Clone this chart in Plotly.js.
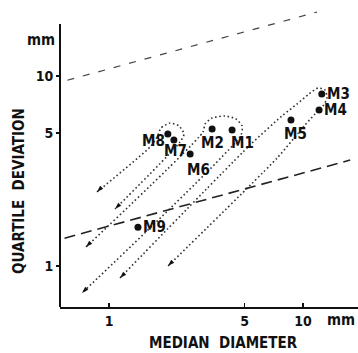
<!DOCTYPE html>
<html>
<head>
<meta charset="utf-8">
<script src="https://cdn.plot.ly/plotly-3.0.1.min.js"></script>
<style>html,body{margin:0;padding:0;background:#fff;}#chart{width:358px;height:353px;}</style>
</head>
<body>
<div id="chart"></div>
<script>
// ---- data ----
const pointNames = ['M1','M2','M3','M4','M5','M6','M7','M8','M9'];
const medianDiameter = [4.31, 3.40, 12.5, 12.1, 8.67, 2.62, 2.16, 2.01, 1.41];
const quartileDeviation = [5.20, 5.26, 8.04, 6.62, 5.87, 3.89, 4.61, 4.95, 1.60];

// dotted lassos (grouping paths) ending in arrows at lower left
const group1X = [0.867, 1.627, 1.768, 1.854, 2.063, 2.295, 2.436, 2.323, 1.074];
const group1Y = [2.452, 4.23, 4.77, 5.33, 5.66, 5.46, 4.95, 4.49, 1.995];
const group2X = [0.761, 3.051, 3.125, 3.396, 3.963, 4.514, 4.849, 4.79, 0.726];
const group2Y = [1.259, 5.075, 5.59, 6.01, 6.16, 5.94, 5.46, 4.89, 0.721];
const group3X = [1.139, 5.33, 7.79, 9.31, 10.74, 11.95, 12.99, 13.30, 12.68, 11.53, 10.24, 7.35, 2.014];
const group3Y = [0.865, 4.33, 6.16, 7.12, 8.04, 8.65, 8.44, 7.66, 6.95, 6.31, 5.52, 3.70, 1.0];

// dashed reference lines
const upperLineX = [0.61, 11.8];
const upperLineY = [9.5, 21.7];
const lowerLineX = [0.59, 17.5];
const lowerLineY = [1.40, 3.61];

// axis ticks
const xTickVals = [1, 5, 10];
const xTickText = ['1', '5', '10'];
const yTickVals = [1, 5, 10];
const yTickText = ['1', '5', '10'];

// ---- styling ----
const FONT = 'DejaVu Sans Condensed, DejaVu Sans, sans-serif';
const INK = '#111';
const groups = [[group1X, group1Y], [group2X, group2Y], [group3X, group3Y]];

const traces = [];
groups.forEach(([gx, gy]) => {
  traces.push({x: gx, y: gy, mode: 'lines', type: 'scatter', hoverinfo: 'skip',
    line: {color: '#333', width: 1.6, dash: '1.6px,2.6px', shape: 'spline', smoothing: 0.6}});
});
// arrowheads at both ends of each lasso
const arrowX = [], arrowY = [];
groups.forEach(([gx, gy]) => {
  arrowX.push(gx[0], gx[gx.length - 1]);
  arrowY.push(gy[0], gy[gy.length - 1]);
});
traces.push({x: arrowX, y: arrowY, mode: 'markers', type: 'scatter', hoverinfo: 'skip',
  marker: {symbol: 'arrow', angle: 225, size: 7, color: INK}});

traces.push({x: upperLineX, y: upperLineY, mode: 'lines', type: 'scatter', hoverinfo: 'skip',
  line: {color: '#444', width: 1.2, dash: '7px,9px'}});
traces.push({x: lowerLineX, y: lowerLineY, mode: 'lines', type: 'scatter', hoverinfo: 'skip',
  line: {color: '#222', width: 1.6, dash: '11px,6px'}});

traces.push({x: medianDiameter, y: quartileDeviation, mode: 'markers', type: 'scatter',
  marker: {size: 7, color: INK}});

// label offsets (pixels) relative to each point
const labelOffsets = {
  M1: [10, 13, 'center'], M2: [0, 14, 'center'], M3: [3, 0, 'left'], M4: [3, 0, 'left'],
  M5: [5, 14, 'center'], M6: [8, 16, 'center'], M7: [2, 11, 'center'], M8: [-14, 7, 'center'],
  M9: [3, 0, 'left']
};
const lblFont = {family: FONT, size: 15, color: INK, weight: 'bold'};
const annotations = pointNames.map((n, i) => ({
  x: Math.log10(medianDiameter[i]), y: Math.log10(quartileDeviation[i]), xref: 'x', yref: 'y',
  text: n, showarrow: false, xanchor: labelOffsets[n][2], yanchor: 'middle',
  xshift: labelOffsets[n][0], yshift: -labelOffsets[n][1], font: lblFont
}));
annotations.push(
  {xref: 'paper', yref: 'paper', x: -0.064, y: 0.893, xanchor: 'center', yanchor: 'middle',
   text: 'mm', showarrow: false, font: lblFont},
  {xref: 'paper', yref: 'paper', x: 0.943, y: -0.043, xanchor: 'center', yanchor: 'middle',
   text: 'mm', showarrow: false, font: lblFont},
  {xref: 'paper', yref: 'paper', x: 0.55, y: -0.12, xanchor: 'center', yanchor: 'middle',
   text: 'MEDIAN  DIAMETER', showarrow: false, font: lblFont},
  {xref: 'paper', yref: 'paper', x: -0.1376, y: 0.388, xanchor: 'center', yanchor: 'middle',
   text: 'QUARTILE  DEVIATION', showarrow: false, textangle: -90, font: lblFont}
);

const layout = {
  width: 358, height: 353,
  margin: {l: 60, r: 0, t: 8, b: 46},
  paper_bgcolor: '#fff', plot_bgcolor: '#fff',
  showlegend: false,
  xaxis: {type: 'log', range: [-0.2526, 1.2835], tickvals: xTickVals, ticktext: xTickText,
    showgrid: false, zeroline: false, showline: true, linewidth: 2, linecolor: INK,
    ticks: 'inside', ticklen: 4, tickwidth: 1.5, tickcolor: INK,
    tickfont: {family: FONT, size: 14, color: INK, weight: 'bold'}},
  yaxis: {type: 'log', range: [-0.2158, 1.3579], tickvals: yTickVals, ticktext: yTickText,
    showgrid: false, zeroline: false, showline: false,
    ticks: 'outside', ticklen: 3, tickwidth: 1.5, tickcolor: INK,
    tickfont: {family: FONT, size: 14, color: INK, weight: 'bold'}},
  shapes: [{type: 'line', xref: 'paper', yref: 'paper', x0: 0, x1: 0, y0: 0, y1: 0.9465,
    line: {color: INK, width: 2}}],
  annotations: annotations
};

Plotly.newPlot('chart', traces, layout, {staticPlot: true, displayModeBar: false});
</script>
</body>
</html>
